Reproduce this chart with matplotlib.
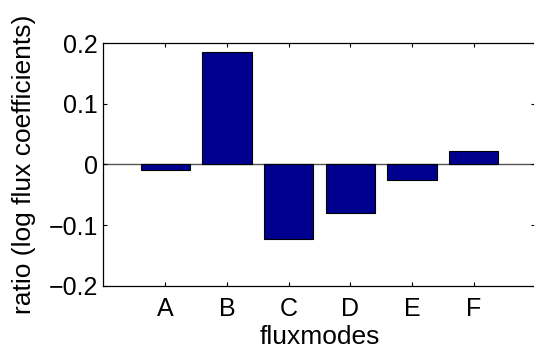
import numpy as np
import matplotlib.pyplot as plt

# Data
modes = ["A", "B", "C", "D", "E", "F"]
ratios = [-0.009, 0.185, -0.123, -0.080, -0.025, 0.022]

plt.rcParams["font.family"] = ["Liberation Sans", "DejaVu Sans"]

fig = plt.figure(figsize=(5.34, 3.54), dpi=100)
ax = fig.add_axes([0.1938, 0.193, 0.809, 0.6847])

x = np.arange(1, len(modes) + 1)
ax.bar(x, ratios, width=0.8, color="#00008f", edgecolor="black", linewidth=0.8, zorder=2)
ax.axhline(0, color="#555555", linewidth=1.0, zorder=1)

ax.set_xlim(0, 7)
ax.set_ylim(-0.2, 0.2)
ax.set_xticks(x)
ax.set_xticklabels(modes)
ax.set_yticks([-0.2, -0.1, 0, 0.1, 0.2])
ax.set_yticklabels(["\u22120.2", "\u22120.1", "0", "0.1", "0.2"])

ax.tick_params(direction="in", length=3, width=0.8, labelsize=18, pad=4,
               top=True, right=True)
ax.tick_params(axis="x", pad=8)
for s in ax.spines.values():
    s.set_linewidth(0.9)

ax.set_xlabel("fluxmodes", fontsize=19, labelpad=3)
ax.set_ylabel("ratio (log flux coefficients)", fontsize=19, labelpad=9)

fig.savefig("out.png", dpi=100)
